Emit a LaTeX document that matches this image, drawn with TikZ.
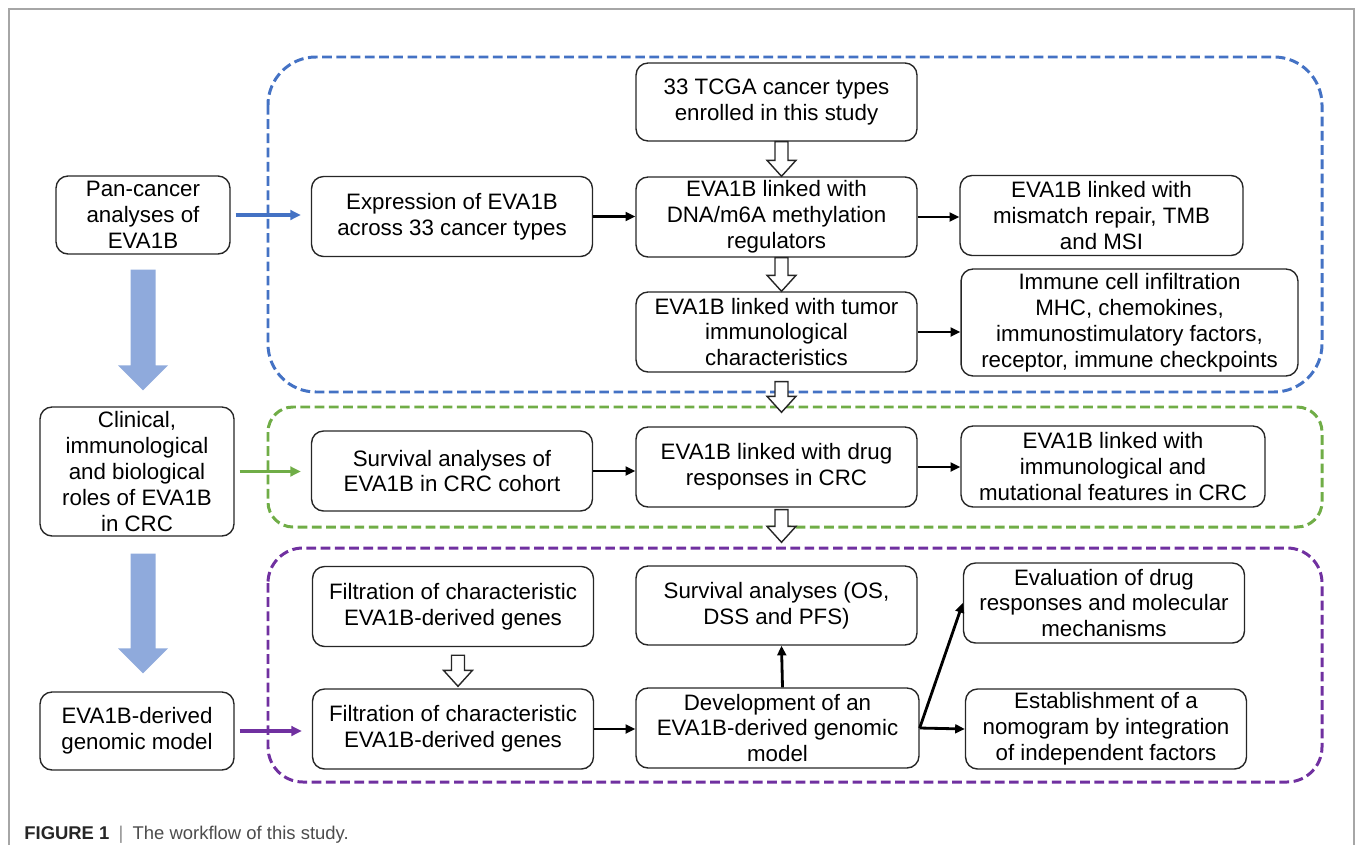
\documentclass[tikz,border=0pt]{standalone}
\usepackage{fontspec}
\setmainfont{Liberation Sans}
\usetikzlibrary{arrows.meta,calc}
\definecolor{regblue}{HTML}{4472C4}
\definecolor{reggreen}{HTML}{70AD47}
\definecolor{regpurple}{HTML}{7030A0}
\definecolor{bigarrow}{HTML}{8FAADC}
\newcommand{\hollowdown}[2]{\draw[hollow] ($#1+(-6.5,0)$) -- ($#2+(-6.5,-16)$) -- ($#2+(-14.5,-16)$) -- #2 -- ($#2+(14.5,-16)$) -- ($#2+(6.5,-16)$) -- ($#1+(6.5,0)$) -- cycle;}
\newcommand{\bigdown}[2]{\fill[bigarrow] ($#1+(-12.5,0)$) -- ($#2+(-12.5,-25)$) -- ($#2+(-25,-25)$) -- #2 -- ($#2+(25,-25)$) -- ($#2+(12.5,-25)$) -- ($#1+(12.5,0)$) -- cycle;}

\begin{document}
\begin{tikzpicture}[x=0.02cm,y=-0.02cm]
\tikzstyle{box}=[draw=black!85,line width=0.8pt,rounded corners=0.24cm,align=center,inner sep=1pt,minimum width=5.62cm,minimum height=1.6cm,font=\fontsize{12.7}{14.7}\selectfont]
\tikzstyle{region}=[line width=1.7pt,dash pattern=on 5.5pt off 2.6pt]
\tikzstyle{flow}=[line width=1.6pt,-{Triangle[length=5.5pt,width=5pt]}]
\tikzstyle{lead}=[line width=1.9pt,-{Triangle[length=6pt,width=5.5pt]},shorten <=0.1cm,shorten >=0.2cm]
\tikzstyle{hollow}=[draw=black!85,fill=white,line width=0.8pt,line join=miter]
\useasboundingbox (0,0) rectangle (1355,845);
\draw[black!35,line width=0.6pt] (9,845) -- (9,9) -- (1354,9) -- (1354,845);

\draw[region,draw=regblue,rounded corners=0.96cm] (268,57) rectangle (1322,392);
\draw[region,draw=reggreen,rounded corners=0.5cm] (268,407) rectangle (1322,527);
\draw[region,draw=regpurple,rounded corners=0.7cm] (268,548) rectangle (1322,782);

\path (143,215) node[box,minimum width=3.48cm,minimum height=1.56cm](pan){Pan-cancer\\analyses of\\EVA1B};
\path (137,471.5) node[box,minimum width=3.88cm,minimum height=2.58cm](clin){Clinical,\\immunological\\and biological\\roles of EVA1B\\in CRC};
\path (137,731) node[box,minimum width=3.88cm,minimum height=1.56cm](model){EVA1B-derived\\genomic model};

\path (776.5,102) node[box,minimum height=1.56cm](tcga){33 TCGA cancer types\\enrolled in this study};
\path (452,216.5) node[box](expr){Expression of EVA1B\\across 33 cancer types} (776.5,217) node[box](dna){EVA1B linked with\\DNA/m6A methylation\\regulators} (1101.5,215.5) node[box,minimum width=5.66cm](mmr){EVA1B linked with\\mismatch repair, TMB\\and MSI};
\path (776.5,332) node[box](tumor){EVA1B linked with tumor\\immunological\\characteristics} (1129.5,322.5) node[box,minimum width=6.74cm,minimum height=2.14cm](immune){Immune cell infiltration\\MHC, chemokines,\\immunostimulatory factors,\\receptor, immune checkpoints};

\path (452,471) node[box](surv){Survival analyses of\\EVA1B in CRC cohort} (776.5,467) node[box](drug){EVA1B linked with drug\\responses in CRC} (1113,466.5) node[box,minimum width=6.08cm,minimum height=1.62cm](feat){EVA1B linked with\\immunological and\\mutational features in CRC};

\path (453,606.5) node[box](filta){Filtration of characteristic\\EVA1B-derived genes} (776.5,605.5) node[box,minimum height=1.58cm](os){Survival analyses (OS,\\DSS and PFS)} (1104,603) node[box](evalu){Evaluation of drug\\responses and molecular\\mechanisms};
\path (453,729) node[box](filtb){Filtration of characteristic\\EVA1B-derived genes} (777.5,728) node[box,minimum width=5.66cm](devel){Development of an\\EVA1B-derived genomic\\model} (1106,729) node[box](nomo){Establishment of a\\nomogram by integration\\of independent factors};

\draw[lead,regblue] (pan.east) -- (pan.east -| expr.west);
\draw[lead,reggreen] (clin.east) -- (clin.east -| surv.west);
\draw[lead,regpurple] (model.east) -- (model.east -| filtb.west);

\draw[flow] (expr.east) -- (expr.east -| dna.west);
\draw[flow] (dna.east) -- (dna.east -| mmr.west);
\draw[flow] (tumor.east) -- (tumor.east -| immune.west);
\draw[flow] (surv.east) -- (surv.east -| drug.west);
\draw[flow] (drug.east) -- (drug.east -| feat.west);
\draw[flow] (filtb.east) -- (filtb.east -| devel.west);
\draw[flow] ([xshift=0.1cm]devel.north) -- ([xshift=0.1cm]os.south);
\draw[flow] (devel.east) -- (evalu.west);
\draw[flow] (devel.east) -- (nomo.west);

\hollowdown{([xshift=0.1cm]tcga.south)}{([xshift=0.1cm]dna.north)}
\hollowdown{([xshift=0.1cm]dna.south)}{([xshift=0.1cm]tumor.north)}
\hollowdown{([xshift=0.1cm,yshift=-0.18cm]tumor.south)}{([xshift=0.1cm,yshift=0.28cm]drug.north)}
\hollowdown{([xshift=0.1cm,yshift=-0.04cm]drug.south)}{([xshift=0.1cm,yshift=0.46cm]os.north)}
\hollowdown{([xshift=0.1cm,yshift=-0.16cm]filta.south)}{([xshift=0.1cm,yshift=0.04cm]filtb.north)}

\bigdown{([yshift=-0.3cm]pan.south)}{([xshift=0.12cm,yshift=0.32cm]clin.north)}
\bigdown{([xshift=0.12cm,yshift=-0.34cm]clin.south)}{([xshift=0.12cm,yshift=0.36cm]model.north)}

\path (24,839) node[anchor=base west,inner sep=0pt,font=\fontsize{10.5}{12}\selectfont,text=black!70](caption){\textcolor{black!85}{\textbf{FIGURE 1}}\enspace\textcolor{black!45}{|}\enspace The workflow of this study.};
\end{tikzpicture}
\end{document}
